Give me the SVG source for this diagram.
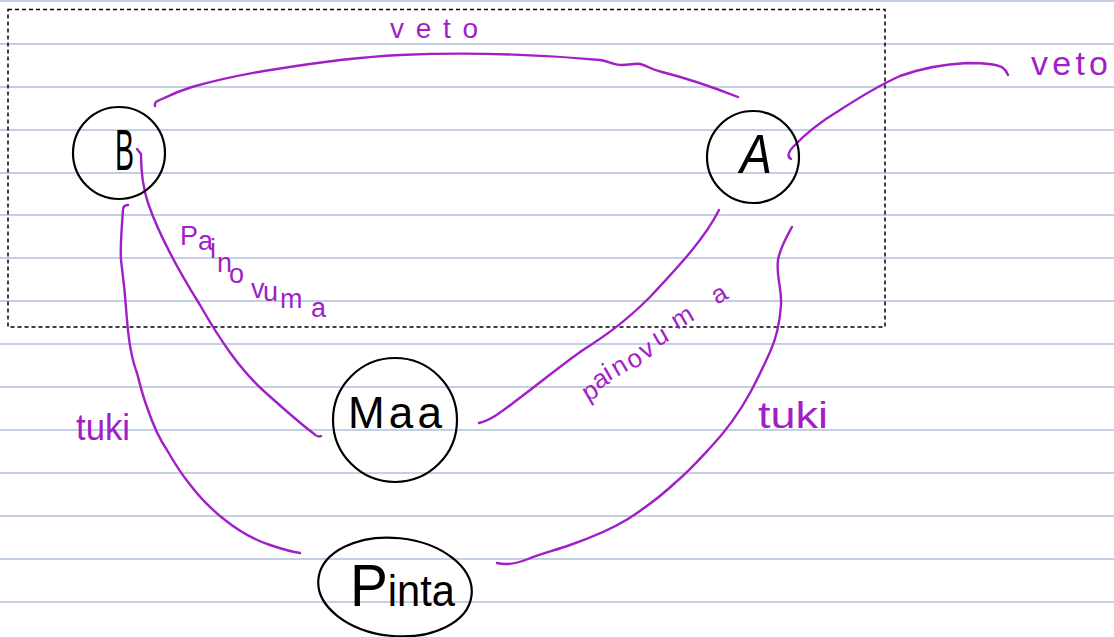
<svg xmlns="http://www.w3.org/2000/svg" width="1114" height="637" viewBox="0 0 1114 637">
<style>
.rule{stroke:#afc0d8;stroke-width:1.4}
.node{fill:none;stroke:#000;stroke-width:2.2}
.edge{fill:none;stroke:#a11fc6;stroke-width:2.4;stroke-linecap:round;stroke-linejoin:round}
.nl{font-family:"Liberation Sans",Arial,sans-serif;fill:#000}
.el{font-family:"Liberation Sans",Arial,sans-serif;fill:#a11fc6}
</style>
<rect width="1114" height="637" fill="#fff"/>
<g id="paper">
<line class="rule" x1="0" y1="1" x2="1114" y2="1"/>
<line class="rule" x1="0" y1="44" x2="1114" y2="44"/>
<line class="rule" x1="0" y1="87" x2="1114" y2="87"/>
<line class="rule" x1="0" y1="130" x2="1114" y2="130"/>
<line class="rule" x1="0" y1="173" x2="1114" y2="173"/>
<line class="rule" x1="0" y1="215" x2="1114" y2="215"/>
<line class="rule" x1="0" y1="258" x2="1114" y2="258"/>
<line class="rule" x1="0" y1="301" x2="1114" y2="301"/>
<line class="rule" x1="0" y1="344" x2="1114" y2="344"/>
<line class="rule" x1="0" y1="387" x2="1114" y2="387"/>
<line class="rule" x1="0" y1="430" x2="1114" y2="430"/>
<line class="rule" x1="0" y1="473" x2="1114" y2="473"/>
<line class="rule" x1="0" y1="516" x2="1114" y2="516"/>
<line class="rule" x1="0" y1="559" x2="1114" y2="559"/>
<line class="rule" x1="0" y1="602" x2="1114" y2="602"/>
</g>
<rect id="frame" x="8" y="9.5" width="877" height="317.5" fill="none" stroke="#000" stroke-width="1.5" stroke-dasharray="4 3"/>
<g id="connectors">
<path class="edge" d="M155,106 C154,102 157,101 162,99 C172,94 182,90 192,87 C220,79 250,73 277,69 C320,62 360,57 400,55 C470,52 545,55 600,60 C608,61 613,65 622,65 C630,65 635,63 640,64 C648,66 652,70 662,72 C690,79 715,88 738,97"/>
<path class="edge" d="M791,159 C787,157 788,152 793,147 C805,134 820,122 840,110 C860,97 880,85 900,76 C925,67 945,64 967,63 C985,63 998,64 1003,68 C1006,70 1007,73 1008,75"/>
<path class="edge" d="M137,149 L141,154 C141,170 142,185 148,203 C158,232 175,265 200,305 C220,340 240,370 266,393 C285,410 302,425 313,433 C316,436 319,437 321,436"/>
<path class="edge" d="M719,210 C705,238 680,265 650,297 C625,322 605,336 583,350 C560,366 540,383 517,400 C505,409 492,420 479,423"/>
<path class="edge" d="M128,205 C125,205 123,206 123,210 C122,225 120,245 121,260 C123,275 125,290 127,320 C129,345 132,360 137,373 C141,388 143,397 147,407 C153,425 160,440 167,450 C175,464 180,472 188,482 C200,498 212,510 225,520 C240,532 255,540 270,545 C282,549 292,552 300,553"/>
<path class="edge" d="M792,227 C786,238 780,248 778,260 C776,275 782,290 781,305 C780,320 777,337 770,352 C762,370 757,380 750,393 C738,415 725,432 710,448 C697,462 688,472 676,482 C660,497 645,508 628,519 C610,530 590,538 570,545 C556,550 540,554 528,559 C518,563 508,566 497,563"/>
</g>
<g id="edge-labels">
<text class="el" x="390" y="38" font-size="28" textLength="88" lengthAdjust="spacing">veto</text>
<text class="el" x="1031" y="75" font-size="34" textLength="77" lengthAdjust="spacing">veto</text>
<text class="el" font-size="27" x="180 198 210 217 229 251 263 280 311" y="245 250 258 272 283 298 301 308 317">Painovuma</text>
<text class="el" font-size="26" x="588 598 609 617 632 645 658 677 717" y="402 390 381 377 370 360 347 330 305" rotate="-30 -30 -30 -30 -30 -30 -30 -30 -30">painovuma</text>
<text class="el" x="76" y="440" font-size="36" textLength="54" lengthAdjust="spacingAndGlyphs">tuki</text>
<text class="el" x="758" y="428" font-size="36" textLength="70" lengthAdjust="spacingAndGlyphs">tuki</text>
</g>
<g id="B">
<circle class="node" cx="119" cy="153" r="46"/>
<text class="nl" x="115" y="170" font-size="58" textLength="19" lengthAdjust="spacingAndGlyphs">B</text>
</g>
<g id="A">
<circle class="node" cx="753" cy="157" r="46"/>
<text class="nl" x="740" y="173" font-size="56" font-style="italic" textLength="32" lengthAdjust="spacingAndGlyphs">A</text>
</g>
<g id="Maa">
<circle class="node" cx="395" cy="420" r="62"/>
<text class="nl" x="348" y="428" font-size="44" textLength="94" lengthAdjust="spacing">Maa</text>
</g>
<g id="Pinta">
<ellipse class="node" cx="395" cy="587" rx="77" ry="49" transform="rotate(6 395 587)"/>
<text class="nl" x="350" y="606" font-size="44" textLength="105" lengthAdjust="spacingAndGlyphs"><tspan font-size="60">P</tspan>inta</text>
</g>
</svg>
